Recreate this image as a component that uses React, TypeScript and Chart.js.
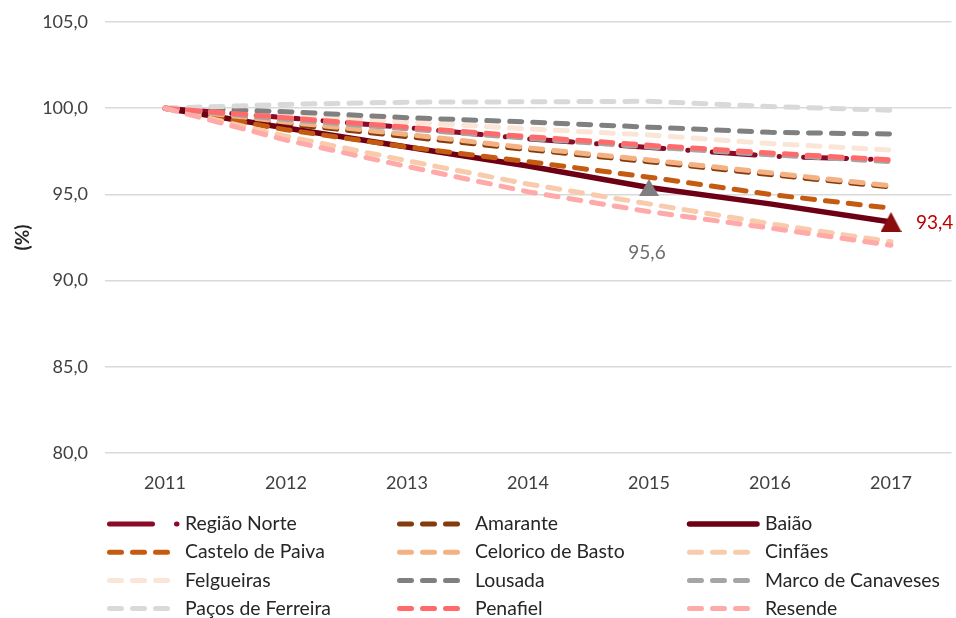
import React, { useEffect, useRef } from "react";
import { Chart, registerables } from "chart.js";

Chart.register(...registerables);

// ---------- DATA ----------
const years = ["2011", "2012", "2013", "2014", "2015", "2016", "2017"];

const regiaoNorte = [100, 99.45, 98.88, 98.22, 97.72, 97.22, 97.0];
const amarante = [100, 99.1, 98.35, 97.6, 96.9, 96.15, 95.42];
const baiao = [100, 98.85, 97.75, 96.65, 95.4, 94.45, 93.4];
const casteloDePaiva = [100, 98.75, 97.75, 96.9, 96.0, 95.0, 94.2];
const celoricoDeBasto = [100, 99.2, 98.48, 97.7, 97.0, 96.25, 95.5];
const cinfaes = [100, 98.38, 96.95, 95.6, 94.45, 93.3, 92.25];
const felgueiras = [100, 99.6, 99.2, 98.8, 98.45, 97.95, 97.57];
const lousada = [100, 99.8, 99.45, 99.2, 98.9, 98.6, 98.5];
const marcoDeCanaveses = [100, 99.35, 98.8, 98.25, 97.75, 97.3, 96.9];
const pacosDeFerreira = [100, 100.22, 100.35, 100.37, 100.4, 100.1, 99.88];
const penafiel = [100, 99.45, 98.9, 98.35, 97.85, 97.4, 97.0];
const resende = [100, 98.15, 96.62, 95.15, 94.0, 93.05, 92.05];

const seriesNames = [
  "Região Norte", "Amarante", "Baião",
  "Castelo de Paiva", "Celorico de Basto", "Cinfães",
  "Felgueiras", "Lousada", "Marco de Canaveses",
  "Paços de Ferreira", "Penafiel", "Resende",
];
const seriesValues = [
  regiaoNorte, amarante, baiao,
  casteloDePaiva, celoricoDeBasto, cinfaes,
  felgueiras, lousada, marcoDeCanaveses,
  pacosDeFerreira, penafiel, resende,
];

const yMin = 80;
const yMax = 105;
const yStep = 5;

// highlighted Baião points and their labels
const baiaoMarkerIndex = [4, 6];
const baiaoMarkerLabels = ["95,6", "93,4"];

// ---------- STYLES ----------
const seriesColors = [
  "#8B0A28", "#843C0C", "#6E0016",
  "#C55A11", "#F4B183", "#F8CBAD",
  "#FBE5D6", "#808080", "#A5A5A5",
  "#D9D9D9", "#FF6B6B", "#FFA9A9",
];
const DASH = [12, 11];
const LONG_DASH_DOT = [43, 24, 0.5, 24];
const seriesDash = [
  LONG_DASH_DOT, DASH, [],
  DASH, DASH, DASH,
  DASH, DASH, DASH,
  DASH, DASH, DASH,
];
const seriesWidth = [5, 5, 5.5, 5, 5, 5, 5, 5, 5, 5, 5, 5];
const markerColors = ["#7F7F7F", "#8B0C0C"];
const markerLabelColors = ["#6E6E6E", "#C00000"];
const FONT = "Lato, 'Open Sans', sans-serif";

function makeTriangle(color: string, w: number, h: number) {
  const c = document.createElement("canvas");
  c.width = w;
  c.height = h;
  const ctx = c.getContext("2d")!;
  ctx.fillStyle = color;
  ctx.beginPath();
  ctx.moveTo(w / 2, 0);
  ctx.lineTo(w, h);
  ctx.lineTo(0, h);
  ctx.closePath();
  ctx.fill();
  return c;
}

const gridLegend = {
  id: "gridLegend",
  afterDraw(chart: any) {
    const ctx = chart.ctx as CanvasRenderingContext2D;
    const cols = [107, 397, 687];
    const rowY0 = 524;
    const rowStep = 28.2;
    chart.data.datasets.forEach((ds: any, i: number) => {
      const x = cols[i % 3];
      const y = rowY0 + Math.floor(i / 3) * rowStep;
      ctx.save();
      ctx.strokeStyle = ds.borderColor;
      ctx.lineWidth = ds.borderWidth;
      ctx.lineCap = "round";
      ctx.setLineDash(ds.borderDash || []);
      ctx.beginPath();
      ctx.moveTo(x + 2.5, y);
      ctx.lineTo(x + 70, y);
      ctx.stroke();
      ctx.restore();
      ctx.save();
      ctx.fillStyle = "#262626";
      ctx.font = `19.4px ${FONT}`;
      ctx.textBaseline = "middle";
      ctx.textAlign = "left";
      ctx.fillText(ds.label, x + 78, y);
      ctx.restore();
    });
  },
};

const markerLabels = {
  id: "markerLabels",
  afterDatasetsDraw(chart: any) {
    const ctx = chart.ctx as CanvasRenderingContext2D;
    const dsIndex = seriesNames.indexOf("Baião");
    const meta = chart.getDatasetMeta(dsIndex);
    ctx.save();
    ctx.font = `19px ${FONT}`;
    ctx.textBaseline = "middle";
    baiaoMarkerIndex.forEach((idx, k) => {
      const pt = meta.data[idx];
      if (!pt) return;
      ctx.fillStyle = markerLabelColors[k];
      if (k === 0) {
        ctx.textAlign = "center";
        ctx.fillText(baiaoMarkerLabels[k], pt.x - 2, pt.y + 65);
      } else {
        ctx.textAlign = "left";
        ctx.fillText(baiaoMarkerLabels[k], pt.x + 25, pt.y + 1);
      }
    });
    ctx.restore();
  },
};

export default function App() {
  const canvasRef = useRef<HTMLCanvasElement | null>(null);

  useEffect(() => {
    if (!canvasRef.current) return;
    const triangles = [
      makeTriangle(markerColors[0], 20, 17),
      makeTriangle(markerColors[1], 21, 20),
    ];
    const n = seriesNames.length;
    const datasets = seriesNames.map((name, i) => {
      const isBaiao = name === "Baião";
      const radius = years.map((_, j) => (isBaiao && baiaoMarkerIndex.includes(j) ? 10 : 0));
      const style = years.map((_, j) => {
        const k = baiaoMarkerIndex.indexOf(j);
        return isBaiao && k >= 0 ? triangles[k] : "circle";
      });
      return {
        label: name,
        data: seriesValues[i],
        borderColor: seriesColors[i],
        backgroundColor: seriesColors[i],
        borderWidth: seriesWidth[i],
        borderDash: seriesDash[i],
        borderCapStyle: "round" as const,
        borderJoinStyle: "round" as const,
        tension: 0,
        fill: false,
        pointRadius: radius,
        pointHoverRadius: radius,
        pointStyle: style as any,
        pointBorderWidth: 0,
        order: n - 1 - i,
      };
    });

    const chart = new Chart(canvasRef.current, {
      type: "line",
      data: { labels: years, datasets },
      options: {
        animation: false,
        responsive: false,
        devicePixelRatio: 1,
        layout: { autoPadding: false, padding: { left: 0, right: 4.5, top: 22, bottom: 125 } },
        plugins: {
          legend: { display: false },
          tooltip: { enabled: false },
        },
        scales: {
          x: {
            offset: true,
            grid: { display: false, drawTicks: false },
            border: { display: false },
            ticks: {
              color: "#404040",
              font: { family: FONT, size: 18 },
              padding: 19,
              maxRotation: 0,
            },
            afterFit(scale: any) {
              scale.height = 40;
              scale.paddingLeft = 0;
              scale.paddingRight = 0;
            },
          },
          y: {
            min: yMin,
            max: yMax,
            grid: { color: "#D9D9D9", lineWidth: 1.5, drawTicks: false },
            border: { display: false },
            ticks: {
              stepSize: yStep,
              color: "#404040",
              font: { family: FONT, size: 18 },
              padding: 16.5,
              callback: (v: any) => Number(v).toFixed(1).replace(".", ","),
            },
            title: {
              display: true,
              text: "(%)",
              color: "#262626",
              font: { family: FONT, size: 19, weight: "bold" },
              padding: { top: 11, bottom: 0 },
            },
            afterFit(scale: any) {
              scale.width = 104.5;
              scale.paddingTop = 0;
              scale.paddingBottom = 0;
            },
          },
        },
      },
      plugins: [markerLabels, gridLegend],
    });
    return () => chart.destroy();
  }, []);

  return (
    <div style={{ position: "fixed", left: 0, top: 0, width: 956, height: 618, background: "#fff" }}>
      <canvas ref={canvasRef} width={956} height={618} style={{ width: 956, height: 618, display: "block" }} />
    </div>
  );
}
